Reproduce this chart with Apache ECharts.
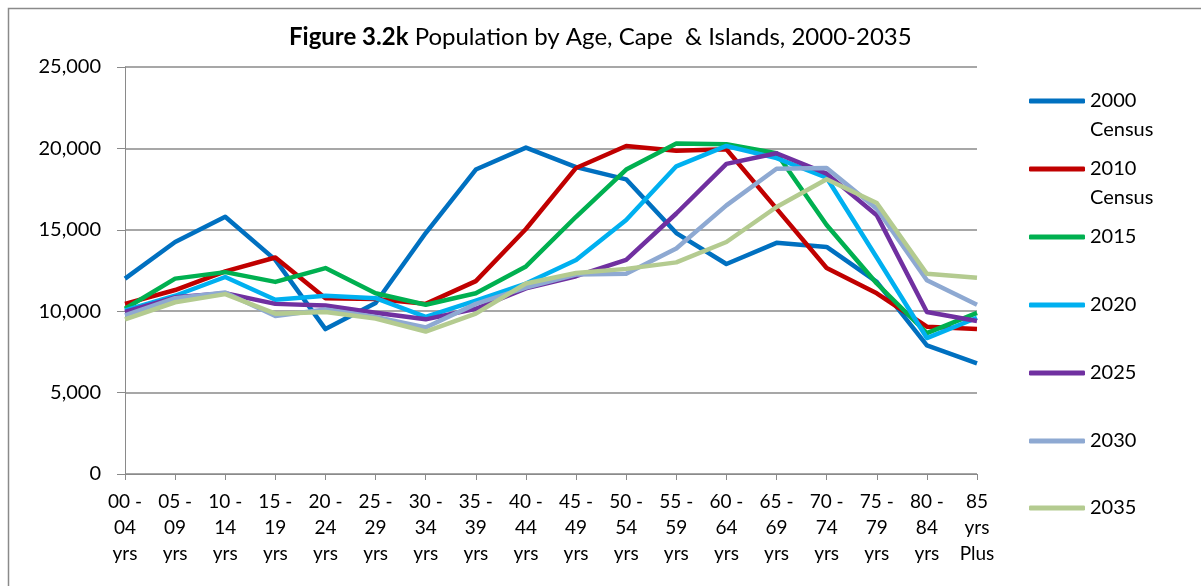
<!DOCTYPE html>
<html>
<head>
<meta charset="utf-8">
<script src="https://cdn.jsdelivr.net/npm/echarts@6/dist/echarts.min.js"></script>
<style>
  html, body { margin: 0; padding: 0; background: #fff; }
  #chart { width: 1201px; height: 586px; }
</style>
</head>
<body>
<div id="chart"></div>
<script>
// age groups (x axis)
let ageGroups = ['00 -\n04\nyrs', '05 -\n09\nyrs', '10 -\n14\nyrs', '15 -\n19\nyrs', '20 -\n24\nyrs',
  '25 -\n29\nyrs', '30 -\n34\nyrs', '35 -\n39\nyrs', '40 -\n44\nyrs', '45 -\n49\nyrs', '50 -\n54\nyrs',
  '55 -\n59\nyrs', '60 -\n64\nyrs', '65 -\n69\nyrs', '70 -\n74\nyrs', '75 -\n79\nyrs', '80 -\n84\nyrs',
  '85\nyrs\nPlus']
let seriesNames = ['2000 Census', '2010 Census', '2015', '2020', '2025', '2030', '2035']
let pop2000 = [12000, 14250, 15800, 13150, 8900, 10500, 14800, 18700, 20050, 18850, 18100, 14800, 12900, 14200, 13950, 11800, 7900, 6800]
let pop2010 = [10450, 11300, 12450, 13300, 10800, 10750, 10450, 11850, 15050, 18800, 20150, 19850, 19950, 16300, 12650, 11100, 9050, 8900]
let pop2015 = [10150, 12000, 12400, 11800, 12650, 11100, 10400, 11100, 12750, 15800, 18700, 20300, 20250, 19700, 15300, 11700, 8650, 9900]
let pop2020 = [10050, 10950, 12100, 10700, 10950, 10800, 9650, 10650, 11700, 13150, 15600, 18900, 20150, 19400, 18200, 13300, 8350, 9600]
let pop2025 = [9950, 10850, 11100, 10450, 10350, 9900, 9500, 10150, 11400, 12150, 13150, 16000, 19050, 19700, 18450, 15900, 9950, 9400]
let pop2030 = [9750, 10800, 11150, 9700, 10100, 9650, 9000, 10450, 11450, 12250, 12300, 13850, 16500, 18750, 18800, 16300, 11900, 10400]
let pop2035 = [9500, 10550, 11050, 9850, 9950, 9550, 8750, 9850, 11700, 12350, 12600, 13000, 14250, 16400, 18100, 16650, 12300, 12050]
let seriesData = [pop2000, pop2010, pop2015, pop2020, pop2025, pop2030, pop2035]
let colors = ['#0070C0', '#C00000', '#00B050', '#00B0F0', '#7030A0', '#8EA9D2', '#B4CB90']

let font = 'Lato, "Open Sans", sans-serif'
let gridColor = '#8a8a8a'

let mychart = echarts.init(document.getElementById('chart'))

// one legend per entry so the icon sits on the first text line
let legendY = [101, 169, 237, 305, 373, 441, 508]
let legends = seriesNames.map((name, i) => {
  let twoLine = name.indexOf('Census') > 0
  return {
    data: [name],
    left: 1029,
    top: twoLine ? legendY[i] - 43.5 : legendY[i] - 14.5,
    icon: 'roundRect',
    itemWidth: 56,
    itemHeight: 5,
    padding: 0,
    selectedMode: false,
    // blank first line keeps the icon level with the year
    formatter: n => twoLine ? ' \n' + n.replace(' ', '\n') : n,
    textStyle: {
      fontFamily: font,
      fontSize: 20,
      color: '#000',
      lineHeight: 29
    }
  }
})

let series = seriesNames.map((name, i) => ({
  name: name,
  type: 'line',
  data: seriesData[i],
  showSymbol: false,
  symbol: 'none',
  color: colors[i],
  lineStyle: { width: 4.5, color: colors[i], join: 'round' },
  emphasis: { disabled: true }
}))

let options = {
  backgroundColor: '#fff',
  animation: false,
  title: {
    text: '{b|Figure 3.2k} Population by Age, Cape  & Islands, 2000-2035',
    left: 289,
    top: 25,
    padding: 0,
    textStyle: {
      fontFamily: font,
      fontSize: 24,
      fontWeight: 'normal',
      color: '#000',
      rich: {
        b: { fontFamily: font, fontSize: 24, fontWeight: 'bold', color: '#000' }
      }
    }
  },
  legend: legends,
  grid: { left: 125, right: 224, top: 67, bottom: 112 },
  xAxis: {
    type: 'category',
    data: ageGroups,
    boundaryGap: false,
    axisLine: { lineStyle: { color: gridColor, width: 1 } },
    axisTick: { show: true, length: 6, lineStyle: { color: gridColor } },
    axisLabel: {
      interval: 0,
      margin: 15,
      fontFamily: font,
      fontSize: 19,
      lineHeight: 26,
      color: '#000'
    },
    splitLine: { show: false }
  },
  yAxis: {
    type: 'value',
    min: 0,
    max: 25000,
    interval: 5000,
    axisLine: { show: true, lineStyle: { color: gridColor, width: 1 } },
    axisTick: { show: true, length: 8, lineStyle: { color: gridColor } },
    axisLabel: {
      margin: 24,
      fontFamily: font,
      fontSize: 20,
      color: '#000',
      formatter: v => v.toLocaleString('en-US')
    },
    splitLine: { lineStyle: { color: gridColor, width: 1.5 } }
  },
  graphic: [{
    type: 'rect',
    shape: { x: 8.5, y: 8.5, width: 1200, height: 600 },
    style: { fill: 'none', stroke: '#8a8a8a', lineWidth: 1.5 },
    silent: true
  }],
  series: series
}

mychart.setOption(options)
window.addEventListener('resize', () => {
  mychart?.resize()
})
</script>
</body>
</html>
